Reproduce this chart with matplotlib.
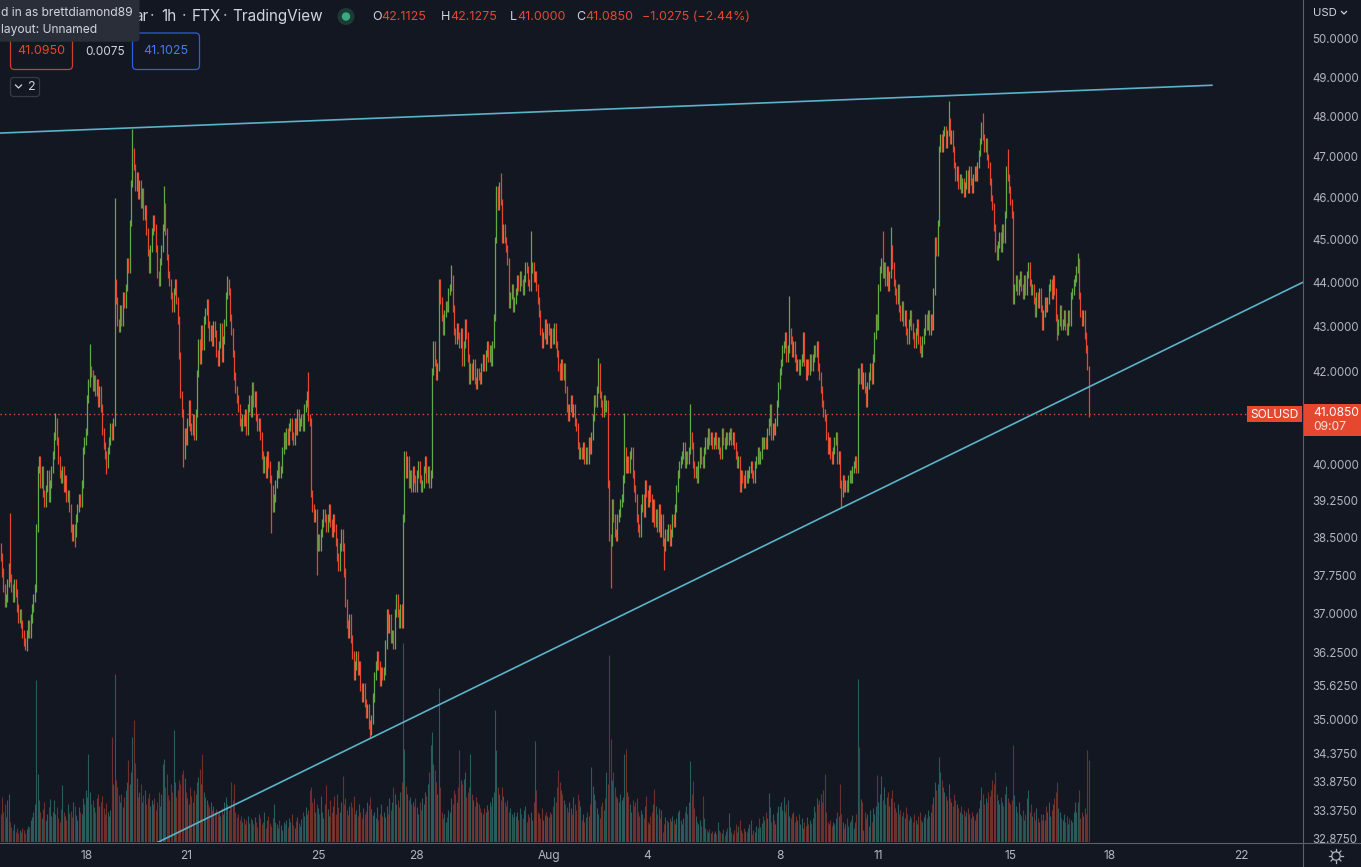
"""SOLUSD 1h candles (FTX) with volume, two trend lines and the TradingView chrome."""
import matplotlib

matplotlib.use("Agg")
import matplotlib.dates as mdates
import matplotlib.pyplot as plt
import numpy as np
import pandas as pd
from matplotlib.patches import Circle, FancyBboxPatch
from matplotlib.ticker import NullFormatter, NullLocator

W, H = 1361, 867
BG = "#131722"
UP = "#62a945"
DOWN = "#e5482f"
VOL_UP = "#2a5c5c"
VOL_DOWN = "#6e302d"
TEXT = "#b2b5be"
TEXT_HI = "#d1d4dc"
SEP = "#5d606b"
TREND = "#5ab3c9"

plt.rcParams["font.family"] = ["Inter", "DejaVu Sans"]

# ---------------------------------------------------------------- data
FIRST_BAR = "2022-07-15 09:00"
FIRST_OPEN = 38.3

CLOSES = [
    # Jul 15 (09:00-23:00)
    38.1, 37.8, 37.5, 37.2, 37.3, 37.6, 37.9, 37.7, 37.5, 37.3, 37.6, 37.4, 37.1, 36.9, 37.0,
    # Jul 16
    36.8, 36.6, 36.45, 36.35, 36.6, 36.8, 36.6, 36.9, 37.1, 37.3, 37.5, 38.7,
    39.9, 40.1, 39.6, 39.9, 39.4, 39.2, 39.5, 39.8, 39.3, 39.6, 39.9, 40.2,
    # Jul 17
    40.6, 40.9, 40.5, 40.1, 39.8, 39.7, 39.9, 39.5, 39.7, 39.3, 39.4, 39.1,
    38.7, 38.5, 38.7, 38.6, 38.9, 39.1, 39.3, 39.2, 39.6, 40.3, 40.5, 40.7,
    # Jul 18
    41.4, 41.75, 42.05, 41.95, 41.65, 41.85, 41.55, 41.75, 41.3, 41.6, 41.2, 40.7,
    40.4, 40.2, 40.0, 40.3, 40.5, 40.8, 40.6, 40.9, 44.0, 43.6, 43.1, 42.95,
    # Jul 19
    43.4, 43.1, 43.7, 43.5, 43.9, 44.5, 44.3, 45.4, 46.35, 47.15, 46.75, 46.25,
    46.55, 46.05, 46.35, 45.85, 46.15, 45.55, 45.75, 45.2, 44.7, 44.3, 44.8, 45.2,
    # Jul 20
    45.5, 45.3, 44.8, 44.2, 44.0, 44.5, 44.8, 45.3, 45.8, 45.2, 44.6, 44.2,
    44.0, 43.7, 43.4, 43.8, 44.0, 43.6, 43.15, 42.35, 41.5, 41.1, 40.2, 40.7,
    # Jul 21
    40.5, 40.9, 41.3, 40.8, 40.7, 41.0, 40.6, 41.1, 41.95, 42.65, 42.25, 42.95,
    42.55, 43.15, 43.35, 43.55, 43.05, 42.75, 42.95, 42.65, 43.05, 42.85, 42.4, 42.2,
    # Jul 22
    42.6, 43.0, 42.3, 42.7, 43.1, 43.7, 44.0, 43.8, 43.2, 42.9, 42.4, 41.9,
    41.6, 41.4, 41.2, 40.9, 40.8, 41.0, 40.9, 41.1, 40.7, 41.2, 41.4, 41.1,
    # Jul 23
    41.7, 41.3, 41.5, 41.0, 40.8, 40.9, 40.6, 40.2, 39.9, 40.1, 39.8, 40.2,
    40.0, 39.7, 39.5, 39.1, 39.3, 39.6, 39.8, 40.0, 39.8, 39.9, 40.3, 40.6,
    # Jul 24
    40.4, 40.7, 40.5, 40.8, 40.9, 40.6, 40.5, 40.9, 40.7, 41.1, 40.8, 40.9,
    41.0, 40.8, 41.2, 41.3, 41.5, 41.0, 40.9, 39.4, 39.1, 38.9, 39.0, 38.3,
    # Jul 25
    38.5, 38.3, 38.6, 38.8, 39.0, 38.9, 38.7, 38.9, 39.1, 38.8, 38.6, 38.9,
    38.7, 38.4, 38.1, 37.9, 38.3, 38.6, 38.3, 37.8, 37.2, 36.8, 36.6, 36.9,
    # Jul 26
    36.5, 36.2, 35.8, 36.0, 36.2, 35.9, 36.0, 35.6, 35.4, 35.6, 35.3, 35.1,
    35.2, 34.9, 34.8, 35.0, 35.4, 35.8, 36.0, 36.2, 36.0, 35.7, 35.9, 35.8,
    # Jul 27
    35.9, 36.4, 37.0, 36.7, 36.9, 36.5, 36.6, 36.4, 37.0, 37.3, 37.0, 36.8,
    37.1, 36.8, 38.9, 40.2, 39.8, 40.1, 39.6, 39.8, 39.5, 39.9, 39.7, 39.5,
    # Jul 28
    39.8, 40.0, 39.7, 39.5, 39.6, 39.9, 40.1, 39.7, 39.9, 39.6, 39.8, 42.0,
    42.6, 42.2, 41.9, 42.1, 44.0, 43.6, 43.2, 42.9, 43.3, 43.5, 43.4, 43.8,
    # Jul 29
    43.9, 44.1, 43.4, 42.9, 42.7, 43.0, 42.8, 42.6, 42.9, 42.2, 42.6, 43.1,
    42.8, 42.3, 41.8, 42.1, 41.9, 42.2, 41.8, 41.7, 42.0, 41.9, 41.8, 42.1,
    # Jul 30
    42.3, 42.1, 42.4, 42.6, 42.3, 42.5, 42.2, 42.6, 43.2, 45.0, 46.2, 45.8,
    46.3, 45.9, 45.0, 45.3, 45.0, 44.8, 44.5, 43.5, 43.7, 43.9, 43.4, 43.6,
    # Jul 31
    43.8, 44.1, 43.9, 44.2, 44.0, 43.8, 44.1, 44.4, 44.3, 44.0, 43.9, 44.3,
    44.4, 44.1, 44.2, 43.9, 43.6, 43.3, 42.9, 42.6, 42.8, 43.1, 42.7, 43.0,
    # Aug 1
    42.9, 42.6, 42.9, 42.7, 43.0, 42.6, 42.4, 42.1, 41.9, 42.2, 41.9, 42.1,
    41.6, 41.2, 41.0, 41.2, 41.4, 41.1, 41.2, 40.9, 40.8, 40.4, 40.2, 40.3,
    # Aug 2
    40.2, 40.4, 40.1, 40.3, 40.1, 40.5, 40.3, 40.6, 41.0, 41.4, 41.3, 41.6,
    42.1, 41.5, 41.3, 41.1, 41.4, 41.2, 41.3, 39.6, 38.5, 38.4, 39.2, 38.9,
    # Aug 3
    38.6, 38.5, 38.9, 39.0, 39.2, 39.3, 39.7, 40.3, 39.9, 40.1, 39.9, 40.2,
    40.3, 39.8, 39.5, 39.3, 38.9, 38.7, 38.6, 39.1, 39.3, 39.0, 39.6, 39.4,
    # Aug 4
    39.2, 39.5, 39.3, 38.9, 39.2, 38.8, 39.0, 38.7, 39.1, 38.6, 38.9, 38.4,
    38.3, 38.6, 38.5, 38.7, 38.4, 38.6, 38.9, 38.8, 39.1, 39.5, 39.8, 40.0,
    # Aug 5
    40.1, 40.2, 40.4, 40.0, 40.2, 40.1, 40.3, 40.6, 40.4, 40.0, 39.8, 39.9,
    39.7, 40.0, 40.3, 40.1, 40.0, 40.3, 40.5, 40.4, 40.7, 40.5, 40.6, 40.4,
    # Aug 6
    40.5, 40.6, 40.4, 40.5, 40.3, 40.2, 40.7, 40.5, 40.4, 40.6, 40.5, 40.6,
    40.7, 40.5, 40.6, 40.4, 40.2, 40.0, 40.1, 39.5, 39.8, 39.7, 39.6, 39.8,
    # Aug 7
    39.7, 39.8, 39.9, 40.0, 39.8, 39.7, 40.0, 40.1, 40.3, 40.1, 40.2, 40.5,
    40.4, 40.5, 40.4, 40.7, 40.9, 41.2, 40.6, 40.8, 40.7, 40.9, 41.3, 41.7,
    # Aug 8
    42.0, 42.2, 42.5, 42.6, 42.8, 42.3, 42.5, 42.9, 42.7, 42.4, 42.6, 42.3,
    42.1, 42.2, 42.0, 42.2, 42.3, 42.8, 42.2, 41.9, 42.2, 42.0, 42.3, 42.1,
    # Aug 9
    42.3, 42.5, 42.4, 42.6, 42.1, 41.9, 41.6, 41.3, 41.1, 41.0, 40.6, 40.3,
    40.5, 40.2, 40.1, 40.3, 40.5, 40.6, 40.1, 40.2, 39.6, 39.4, 39.7, 39.5,
    # Aug 10
    39.6, 39.5, 39.7, 39.8, 39.7, 39.9, 40.0, 40.1, 39.9, 42.0, 41.8, 42.1,
    41.7, 41.9, 41.6, 41.3, 41.7, 41.9, 42.1, 41.8, 42.3, 42.8, 43.2, 43.0,
    # Aug 11
    43.9, 44.3, 44.5, 44.2, 44.4, 44.0, 44.3, 43.9, 44.2, 44.8, 44.4, 44.0,
    43.8, 43.6, 43.9, 43.4, 43.2, 43.5, 43.1, 43.3, 42.9, 42.7, 43.1, 43.3,
    # Aug 12
    43.0, 42.8, 42.6, 42.9, 43.1, 42.7, 42.5, 42.4, 42.7, 42.9, 43.2, 43.0,
    43.3, 42.9, 43.2, 43.0, 43.8, 45.0, 44.7, 45.4, 47.2, 47.5, 47.2, 47.6,
    # Aug 13
    47.7, 47.3, 47.6, 47.9, 47.4, 47.6, 47.2, 46.8, 46.5, 46.7, 46.3, 46.5,
    46.2, 46.4, 46.1, 46.3, 46.6, 46.2, 46.7, 46.4, 46.2, 46.5, 46.7, 46.5,
    # Aug 14
    46.8, 47.1, 47.4, 47.8, 47.5, 47.2, 47.4, 47.0, 46.8, 46.4, 46.0, 45.8,
    45.3, 44.8, 44.6, 44.9, 45.1, 44.8, 45.3, 45.0, 45.6, 46.7, 46.5, 46.2,
    # Aug 15
    45.9, 45.6, 43.6, 43.9, 44.1, 43.8, 44.0, 44.2, 43.9, 43.7, 44.1, 43.8,
    44.2, 44.4, 44.0, 43.8, 43.9, 43.6, 43.3, 43.7, 43.5, 43.8, 43.4, 43.0,
    # Aug 16
    43.3, 43.6, 43.4, 43.6, 43.9, 44.0, 43.7, 44.1, 43.8, 43.2, 42.9, 43.1,
    43.4, 43.0, 43.1, 43.3, 43.0, 42.9, 43.3, 43.1, 43.7, 43.8, 44.0, 44.1,
    # Aug 17 (00:00-09:00)
    44.3, 44.5, 43.7, 43.3, 43.1, 43.3, 42.8, 42.5, 42.1125, 41.085,
]

VOLUMES = [
    # Jul 15
    28, 45, 30, 38, 25, 42, 48, 20, 15, 12, 18, 10, 14, 9, 12,
    # Jul 16
    10, 14, 12, 9, 13, 16, 15, 22, 25, 30, 38, 162, 68, 42, 30, 24, 33, 40, 22, 28, 35, 43, 26, 30,
    # Jul 17
    42, 28, 35, 24, 20, 33, 57, 30, 26, 22, 38, 29, 31, 25, 40, 36, 27, 22, 35, 30, 28, 44, 38, 52,
    # Jul 18
    45, 88, 50, 38, 42, 35, 30, 44, 48, 36, 40, 46, 34, 28, 39, 30, 26, 32, 105, 58, 168, 62, 55, 47,
    # Jul 19
    40, 48, 35, 45, 52, 60, 82, 58, 70, 105, 122, 79, 64, 45, 50, 58, 40, 47, 52, 38, 44, 49, 36, 42,
    # Jul 20
    38, 44, 32, 40, 50, 36, 48, 78, 83, 55, 68, 47, 42, 58, 50, 112, 60, 45, 52, 62, 58, 68, 72, 64,
    # Jul 21
    50, 44, 38, 55, 46, 40, 52, 48, 60, 65, 73, 58, 88, 50, 45, 42, 38, 35, 40, 32, 36, 30, 33, 28,
    # Jul 22
    30, 26, 34, 28, 40, 45, 38, 32, 36, 60, 42, 58, 30, 25, 28, 22, 26, 20, 24, 18, 22, 26, 19, 24,
    # Jul 23
    22, 18, 25, 20, 15, 28, 24, 18, 20, 30, 14, 22, 26, 19, 16, 24, 38, 20, 18, 14, 22, 17, 12, 20,
    # Jul 24
    18, 22, 15, 24, 20, 28, 17, 14, 21, 25, 19, 16, 23, 30, 26, 35, 28, 32, 52, 55, 40, 44, 30, 38,
    # Jul 25
    34, 28, 46, 30, 24, 38, 57, 33, 26, 42, 30, 36, 46, 28, 48, 35, 30, 40, 66, 38, 44, 32, 27, 36,
    # Jul 26
    40, 35, 46, 28, 32, 26, 38, 30, 24, 34, 28, 31, 40, 37, 45, 33, 27, 30, 24, 35, 22, 28, 38, 26,
    # Jul 27
    30, 25, 36, 28, 44, 32, 40, 55, 48, 38, 42, 35, 50, 60, 199, 93, 56, 48, 42, 45, 38, 40, 36, 44,
    # Jul 28
    35, 28, 40, 32, 44, 38, 50, 46, 58, 70, 97, 110, 78, 72, 60, 48, 154, 55, 30, 24, 28, 20, 25, 32,
    # Jul 29
    30, 44, 38, 52, 48, 40, 55, 92, 62, 58, 63, 70, 45, 50, 55, 88, 48, 42, 36, 45, 40, 38, 34, 30,
    # Jul 30
    28, 34, 30, 37, 32, 40, 36, 45, 50, 132, 92, 55, 48, 42, 55, 46, 40, 36, 42, 30, 34, 28, 25, 30,
    # Jul 31
    26, 30, 22, 34, 28, 24, 32, 36, 20, 28, 25, 30, 22, 40, 101, 52, 30, 28, 24, 34, 22, 27, 30, 26,
    # Aug 1
    25, 30, 28, 36, 45, 40, 55, 72, 60, 52, 48, 42, 38, 35, 30, 40, 34, 28, 45, 38, 32, 48, 42, 36,
    # Aug 2
    22, 28, 20, 25, 30, 26, 38, 75, 56, 48, 42, 34, 28, 24, 36, 40, 32, 44, 70, 58, 187, 103, 62, 70,
    # Aug 3
    55, 46, 44, 40, 48, 42, 45, 88, 93, 50, 46, 38, 30, 42, 36, 40, 44, 30, 26, 32, 28, 24, 36, 46,
    # Aug 4
    20, 18, 26, 30, 38, 53, 36, 28, 34, 24, 32, 10, 18, 25, 22, 20, 24, 21, 26, 22, 18, 24, 30, 32,
    # Aug 5
    22, 18, 24, 30, 36, 28, 40, 81, 48, 61, 34, 26, 20, 18, 22, 16, 46, 24, 14, 12, 10, 13, 9, 11,
    # Aug 6
    9, 11, 8, 20, 12, 10, 9, 13, 7, 11, 14, 29, 15, 10, 8, 12, 18, 10, 16, 22, 12, 9, 14, 11,
    # Aug 7
    10, 14, 18, 22, 8, 12, 10, 16, 14, 24, 15, 19, 26, 22, 30, 24, 49, 35, 20, 28, 22, 18, 30, 36,
    # Aug 8
    36, 40, 32, 45, 30, 38, 42, 26, 24, 28, 30, 20, 26, 22, 28, 18, 24, 14, 20, 16, 25, 18, 22, 19,
    # Aug 9
    24, 36, 30, 44, 38, 42, 48, 40, 52, 68, 30, 20, 18, 22, 16, 20, 18, 24, 30, 26, 58, 28, 20, 14,
    # Aug 10
    18, 24, 16, 20, 22, 27, 14, 20, 28, 163, 95, 43, 40, 12, 30, 24, 28, 16, 32, 20, 34, 28, 36, 67,
    # Aug 11
    40, 48, 66, 42, 55, 38, 45, 50, 36, 44, 52, 40, 34, 30, 38, 28, 32, 26, 30, 24, 35, 28, 22, 26,
    # Aug 12
    24, 20, 28, 22, 18, 26, 30, 22, 20, 25, 28, 24, 32, 26, 30, 38, 45, 60, 52, 58, 85, 70, 62, 55,
    # Aug 13
    50, 46, 42, 58, 44, 40, 36, 48, 42, 38, 34, 30, 36, 28, 32, 26, 30, 34, 28, 24, 30, 26, 22, 28,
    # Aug 14
    30, 34, 42, 55, 48, 38, 44, 40, 50, 46, 52, 62, 58, 70, 48, 42, 38, 45, 40, 36, 48, 56, 44, 40,
    # Aug 15
    38, 42, 97, 47, 36, 30, 40, 28, 26, 32, 22, 28, 44, 52, 30, 38, 26, 30, 22, 34, 24, 20, 28, 22,
    # Aug 16
    28, 22, 36, 30, 40, 26, 32, 38, 44, 50, 60, 34, 30, 24, 22, 28, 20, 26, 18, 24, 22, 20, 30, 40,
    # Aug 17
    30, 40, 52, 24, 30, 26, 34, 28, 92, 82,
]

# typical wick beyond the body, and the long wicks
WICK = 0.08
HIGH_MARKS = {
    "2022-07-15 16:00": 39.0, "2022-07-17 01:00": 41.1, "2022-07-18 02:00": 42.6,
    "2022-07-18 20:00": 46.0, "2022-07-19 09:00": 47.7, "2022-07-20 08:00": 46.3,
    "2022-07-22 06:00": 44.15, "2022-07-24 17:00": 42.0, "2022-07-29 01:00": 44.4,
    "2022-07-30 13:00": 46.6, "2022-07-31 11:00": 45.2, "2022-08-02 12:00": 42.3,
    "2022-08-03 07:00": 41.1, "2022-08-05 07:00": 41.3, "2022-08-08 07:00": 43.7,
    "2022-08-11 03:00": 45.2, "2022-08-11 09:00": 45.3, "2022-08-13 03:00": 48.4,
    "2022-08-14 04:00": 48.1, "2022-08-14 22:00": 47.2, "2022-08-17 01:00": 44.7,
    "2022-08-17 09:00": 42.1275,
}
LOW_MARKS = {
    "2022-07-16 03:00": 36.3, "2022-07-17 15:00": 38.3, "2022-07-18 14:00": 39.8,
    "2022-07-20 22:00": 39.95, "2022-07-23 14:00": 38.6, "2022-07-24 23:00": 37.75,
    "2022-07-26 14:00": 34.65, "2022-08-02 21:00": 37.5, "2022-08-04 12:00": 37.85,
    "2022-08-09 21:00": 39.1, "2022-08-16 10:00": 42.7, "2022-08-17 09:00": 41.0,
}

# trend lines drawn on the chart
UPPER_LINE_TIMES = ["2022-07-15 00:00", "2022-08-21 02:40"]
UPPER_LINE_PRICES = [47.58, 48.80]
LOWER_TOUCH_TIMES = ["2022-07-26 14:00", "2022-08-09 21:00"]
LOWER_TOUCH_PRICES = [34.65, 39.1]

VIEW = ["2022-07-15 08:38", "2022-08-23 21:00"]
PRICE_RANGE = [32.82, 51.03]
# 41.0000 sits under the last-price tag, so it is not listed
PRICE_TICKS = [50, 49, 48, 47, 46, 45, 44, 43, 42, 40, 39.25, 38.5, 37.75,
               37, 36.25, 35.625, 35, 34.375, 33.875, 33.375, 32.875]
DATE_TICKS = ["2022-07-18", "2022-07-21", "2022-07-25", "2022-07-28", "2022-08-01",
              "2022-08-04", "2022-08-08", "2022-08-11", "2022-08-15", "2022-08-18",
              "2022-08-22"]
DATE_LABELS = ["18", "21", "25", "28", "Aug", "4", "8", "11", "15", "18", "22"]
VOL_PEAK_SHARE = 199 / 842  # tallest volume bar vs pane height

assert len(CLOSES) == len(VOLUMES)

# ---------------------------------------------------------------- series
times = pd.date_range(FIRST_BAR, periods=len(CLOSES), freq="h")
x = mdates.date2num(times.to_pydatetime())
closes = np.array(CLOSES, dtype=float)
opens = np.r_[FIRST_OPEN, closes[:-1]]
highs = np.maximum(opens, closes) + WICK
lows = np.minimum(opens, closes) - WICK
for ts, v in HIGH_MARKS.items():
    i = times.get_loc(pd.Timestamp(ts))
    highs[i] = max(v, opens[i], closes[i])
for ts, v in LOW_MARKS.items():
    i = times.get_loc(pd.Timestamp(ts))
    lows[i] = min(v, opens[i], closes[i])
up = closes >= opens
vols = np.array(VOLUMES, dtype=float)
xlim = [mdates.date2num(pd.Timestamp(t).to_pydatetime()) for t in VIEW]

# ---------------------------------------------------------------- figure
fig = plt.figure(figsize=(W / 100, H / 100), dpi=100, facecolor=BG)
rect = (0, 25 / H, 1303 / W, 842 / H)

vax = fig.add_axes(rect, facecolor=BG)
vax.vlines(x, 0, vols, colors=np.where(up, VOL_UP, VOL_DOWN), lw=0.8)
vax.set_xlim(xlim)
vax.set_ylim(0, vols.max() / VOL_PEAK_SHARE)
vax.axis("off")

ax = fig.add_axes(rect)
ax.patch.set_alpha(0)
ax.set_yscale("log")
ax.set_ylim(PRICE_RANGE)
ax.set_xlim(xlim)
ax.vlines(x, lows, highs, colors=np.where(up, UP, DOWN), lw=0.9, zorder=3)

# trend lines
ut = [mdates.date2num(pd.Timestamp(t).to_pydatetime()) for t in UPPER_LINE_TIMES]
ax.plot(ut, UPPER_LINE_PRICES, color=TREND, lw=1.2, zorder=4)
lt = [mdates.date2num(pd.Timestamp(t).to_pydatetime()) for t in LOWER_TOUCH_TIMES]
slope = np.log(LOWER_TOUCH_PRICES[1] / LOWER_TOUCH_PRICES[0]) / (lt[1] - lt[0])
ext = np.array([xlim[0] - 5, xlim[1] + 5])
ax.plot(ext, LOWER_TOUCH_PRICES[0] * np.exp(slope * (ext - lt[0])),
        color=TREND, lw=1.2, zorder=4)

# last price line
ax.axhline(closes[-1], color=DOWN, lw=1.0, ls=(0, (1, 2.2)), zorder=2)

for s in ax.spines.values():
    s.set_visible(False)
ax.yaxis.tick_right()
ax.set_yticks(PRICE_TICKS)
ax.set_yticklabels([f"{v:.4f}" for v in PRICE_TICKS])
ax.yaxis.set_minor_locator(NullLocator())
ax.yaxis.set_minor_formatter(NullFormatter())
ax.set_xticks([mdates.date2num(pd.Timestamp(t).to_pydatetime()) for t in DATE_TICKS])
ax.set_xticklabels(DATE_LABELS)
ax.tick_params(axis="y", length=0, pad=6.5, labelsize=8.3, labelcolor=TEXT)
ax.tick_params(axis="x", length=0, pad=5.5, labelsize=8.6, labelcolor=TEXT)

# ---------------------------------------------------------------- chrome (pixel coords)
ui = fig.add_axes((0, 0, 1, 1))
ui.set_xlim(0, W)
ui.set_ylim(H, 0)
ui.axis("off")
ui.patch.set_alpha(0)


def box(x0, y0, x1, y1, fc="none", ec="none", r=0.0, lw=1.0, z=5):
    style = f"round,pad=0,rounding_size={r}" if r else "square,pad=0"
    ui.add_patch(FancyBboxPatch((x0, y0), x1 - x0, y1 - y0, boxstyle=style,
                                fc=fc, ec=ec, lw=lw, zorder=z))


def txt(xp, yp, s, color=TEXT, size=9, ha="left", z=6, **kw):
    ui.text(xp, yp, s, color=color, fontsize=size, ha=ha, va="center", zorder=z, **kw)


# hide the lower half of the bottom price label, then the pane separators
box(1304, 843, W, H, fc=BG, z=2)
ui.plot([1303.5, 1303.5], [0, H], color=SEP, lw=0.8, zorder=3)
ui.plot([0, W], [842.5, 842.5], color=SEP, lw=0.8, zorder=3)

# header line (its first letter runs under the tooltip)
txt(148.5, 16.5, "ar", color=TEXT_HI, size=11, ha="right", z=4)
for xp, s in [(152, "·"), (184.5, "·"), (225.5, "·")]:
    txt(xp, 16.5, s, color=TEXT, size=11, ha="center", z=4)
for xp, s in [(161.5, "1h"), (192, "FTX"), (232, "TradingView")]:
    txt(xp, 16.5, s, color=TEXT_HI, size=11, z=4)
ui.add_patch(Circle((346, 16.5), 8.5, fc="#1d3a35", ec="none", zorder=4))
ui.add_patch(Circle((346, 16.5), 4.2, fc="#39ab83", ec="none", zorder=5))
for xp, s, c in [(372, "O", TEXT_HI), (381, "42.1125", DOWN),
                 (441, "H", TEXT_HI), (450.5, "42.1275", DOWN),
                 (510, "L", TEXT_HI), (517.5, "41.0000", DOWN),
                 (576, "C", TEXT_HI), (585.5, "41.0850", DOWN),
                 (642, "−1.0275 (−2.44%)", DOWN)]:
    txt(xp, 17, s, color=c, size=9, z=4)

# "logged in" tooltip, running in from the left edge
box(-10, -10, 139.5, 41.7, fc="#2a2e39", r=4, z=7)
txt(1, 12.5, "d in as brettdiamond89", color=TEXT_HI, size=8.7, z=8)
txt(1, 30, "layout: Unnamed", color=TEXT_HI, size=8.7, z=8)

# bid / spread / ask boxes
box(10.5, 33, 72.5, 69.5, ec="#c9412c", r=4, lw=0.9)
txt(41.5, 51.5, "41.0950", color=DOWN, size=9, ha="center")
txt(105, 52, "0.0075", color=TEXT_HI, size=8.5, ha="center")
box(132.5, 33, 199.5, 69.5, ec="#2f5ee0", r=4, lw=0.9)
txt(166, 51.5, "41.1025", color="#4a7af0", size=9, ha="center")
box(10.5, 77.5, 39.5, 96.5, ec="#363a45", r=3, lw=0.9)
ui.plot([15.5, 18.5, 21.5], [85, 88, 85], color=TEXT_HI, lw=0.9, zorder=6)
txt(31.5, 87, "2", color=TEXT_HI, size=9, ha="center")

# price scale header
txt(1313, 13, "USD", color=TEXT_HI, size=8.2)
ui.plot([1341.5, 1344, 1346.5], [11.5, 14, 11.5], color=TEXT_HI, lw=0.9, zorder=6)

# last price tags
box(1247, 406, 1302, 422, fc=DOWN, z=5)
txt(1274.5, 414.5, "SOLUSD", color="white", size=8.6, ha="center")
box(1304, 404, W, 436, fc=DOWN, z=5)
txt(1313, 413.5, f"{closes[-1]:.4f}", color="white", size=8.6)
txt(1313, 427.5, "09:07", color="#fde3dd", size=8.6)

# settings gear
cx, cy = 1336, 856
ui.add_patch(Circle((cx, cy), 4.2, fc="none", ec=TEXT, lw=0.9, zorder=6))
for a in np.deg2rad(np.arange(0, 360, 45)):
    ui.plot([cx + 4.8 * np.cos(a), cx + 7.0 * np.cos(a)],
            [cy + 4.8 * np.sin(a), cy + 7.0 * np.sin(a)], color=TEXT, lw=0.9, zorder=6)

fig.savefig("out.png", dpi=100, facecolor=BG)
